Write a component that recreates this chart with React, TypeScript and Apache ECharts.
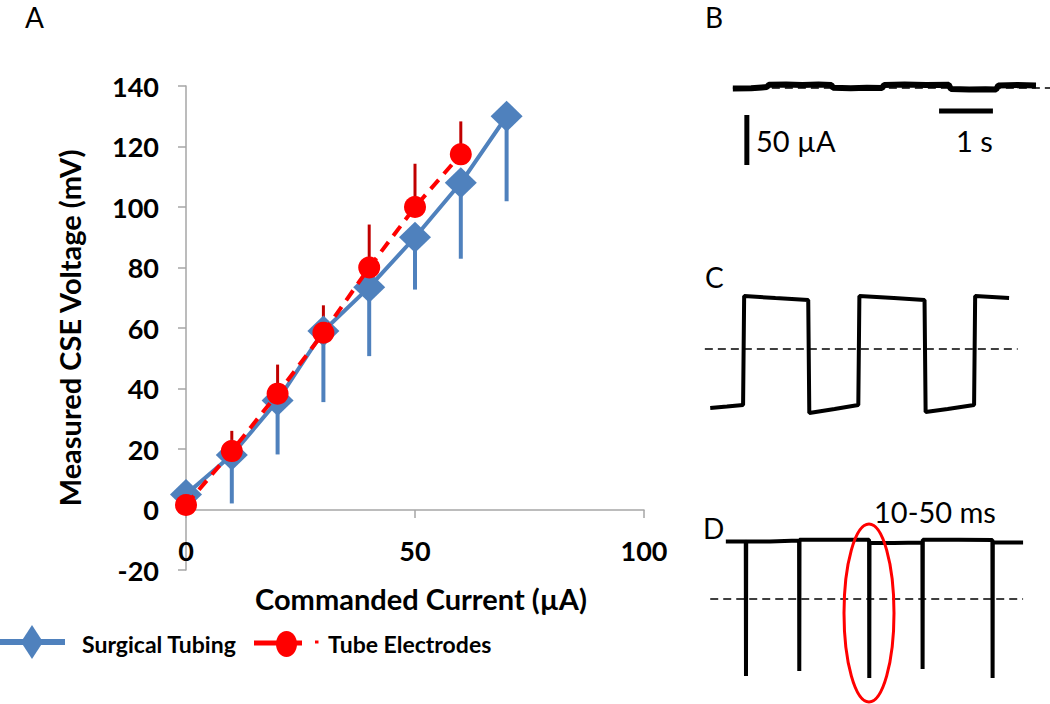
import React, { useEffect, useRef } from "react";
import * as echarts from "echarts";

// ---------- Panel A data ----------
const xTicks = [0, 50, 100];
const yTicks = [-20, 0, 20, 40, 60, 80, 100, 120, 140];
const seriesNames = ["Surgical Tubing", "Tube Electrodes"];
const tubingCurrent = [0, 10, 20, 30, 40, 50, 60, 70];
const tubingVoltage = [5, 18, 36, 59, 73.5, 90, 108, 130];
const tubingErrorDown = [0, 16, 17.8, 23.5, 22.8, 17.3, 25.1, 28.1];
const electrodeCurrent = [0, 10, 20, 30, 40, 50, 60];
const electrodeVoltage = [1.5, 19.3, 38.3, 58.4, 80, 100, 117.4];
const electrodeErrorUp = [0, 6.7, 9.6, 9.1, 14.2, 14.3, 10.9];

// ---------- Panel B (time in s, current in µA) ----------
const traceBTime = [0.61, 0.95, 1.15, 1.24, 1.28, 1.6, 1.9, 2.2, 2.44, 2.47, 2.8, 3.1, 3.38, 3.42, 3.8, 4.2, 4.62, 4.66, 5.0, 5.3, 5.5, 5.54, 5.9, 6.24];
const traceBCurrent = [-0.5, -0.3, 0.6, 1.0, 3.2, 3.6, 3.0, 3.4, 3.0, 0.2, -0.2, 0.3, 0.0, 3.0, 3.5, 2.9, 3.2, -1.0, -1.5, -1.2, -1.4, 2.5, 2.9, 2.6];
const baselineBTime = [0.61, 6.5];
const scaleBarCurrentTime = [0.87, 0.87];
const scaleBarCurrentValue = [-27, -77]; // 50 µA
const scaleBarTimeTime = [4.44, 5.44]; // 1 s
const scaleBarTimeValue = [-23, -23];

// ---------- Panel C ----------
const traceCTime = [0.19, 0.5, 0.8, 0.82, 1.4, 2.01, 2.03, 2.5, 2.94, 2.96, 3.6, 4.17, 4.19, 4.6, 5.09, 5.11, 5.74];
const traceCCurrent = [-59, -57.5, -56, 53, 51, 49, -64, -60, -56, 53, 51, 49, -63, -60, -56, 53, 51];
const baselineCTime = [0.09, 5.9];

// ---------- Panel D ----------
const traceDTime = [0.48, 0.85, 0.854, 0.858, 1.3, 1.84, 1.844, 1.848, 2.5, 3.14, 3.144, 3.148, 3.6, 4.13, 4.134, 4.138, 4.8, 5.43, 5.434, 5.438, 6.0];
const traceDCurrent = [57.6, 57.6, -77, 57.6, 57.6, 58.5, -72, 59.3, 59.3, 59.3, -79, 56, 56, 56.5, -70, 59.3, 59.3, 59, -79, 56.5, 56.5];
const baselineDTime = [0.19, 6.0];

const BLUE = "#4F81BD";
const RED = "#FF0000";
const DARKRED = "#C00000";
const FONT = "Lato, 'Open Sans', sans-serif";

function zip(a: number[], b: number[]) {
  return a.map((v, i) => [v, b[i]]);
}

function errorSeries(xs: number[], ys: number[], errs: number[], dir: number, color: string, width: number) {
  return {
    type: "custom",
    xAxisIndex: 0,
    yAxisIndex: 0,
    z: 1,
    encode: { x: 0, y: 1 },
    data: xs.map((x, i) => [x, ys[i], errs[i]]),
    renderItem: (params: any, api: any) => {
      const x = api.value(0);
      const y = api.value(1);
      const e = api.value(2);
      const p1 = api.coord([x, y]);
      const p2 = api.coord([x, y + dir * e]);
      return {
        type: "line",
        shape: { x1: p1[0], y1: p1[1], x2: p2[0], y2: p2[1] },
        style: { stroke: color, lineWidth: width },
      };
    },
  };
}

function traceSeries(idx: number, t: number[], v: number[], width: number, dashed = false) {
  return {
    type: "line",
    xAxisIndex: idx,
    yAxisIndex: idx,
    data: zip(t, v),
    symbol: "none",
    silent: true,
    lineStyle: dashed
      ? { color: "#000", width: 1.5, type: [8, 5] }
      : { color: "#000", width },
    z: dashed ? 1 : 2,
  };
}

function panelLabel(text: string, x: number, y: number) {
  return {
    type: "text",
    x,
    y,
    style: { text, font: `28px ${FONT}`, fill: "#000", verticalAlign: "top" },
  };
}

export default function App() {
  const ref = useRef<HTMLDivElement>(null);
  useEffect(() => {
    if (!ref.current) return;
    const chart = echarts.init(ref.current, null, { renderer: "svg" });
    const hiddenAxis = (min: number, max: number, gridIndex: number) => ({
      type: "value",
      gridIndex,
      min,
      max,
      show: false,
    });
    const option: any = {
      animation: false,
      backgroundColor: "#fff",
      grid: [
        { left: 186, top: 86, width: 458, height: 484 },
        { left: 700, top: 38, width: 350, height: 150 },
        { left: 700, top: 249, width: 350, height: 200 },
        { left: 700, top: 499, width: 350, height: 200 },
      ],
      xAxis: [
        {
          type: "value",
          gridIndex: 0,
          min: xTicks[0],
          max: xTicks[xTicks.length - 1],
          interval: 50,
          offset: -60,
          name: "Commanded Current (µA)",
          nameLocation: "middle",
          nameGap: 74,
          nameMoveOverlap: false,
          nameTextStyle: { fontFamily: FONT, fontWeight: "bold", fontSize: 29, color: "#000", padding: [0, 0, 0, 12] },
          axisLine: { onZero: false, lineStyle: { color: "#A6A6A6", width: 1.5 } },
          axisTick: { show: true, length: 8, lineStyle: { color: "#A6A6A6", width: 1.5 } },
          axisLabel: { fontFamily: FONT, fontWeight: "bold", fontSize: 27, color: "#000", margin: 27 },
          splitLine: { show: false },
        },
        hiddenAxis(0, 6.5, 1),
        hiddenAxis(0, 6.5, 2),
        hiddenAxis(0, 6.5, 3),
      ],
      yAxis: [
        {
          type: "value",
          gridIndex: 0,
          min: yTicks[0],
          max: yTicks[yTicks.length - 1],
          interval: 20,
          name: "Measured CSE Voltage (mV)",
          nameLocation: "middle",
          nameGap: 102,
          nameMoveOverlap: false,
          nameTextStyle: { fontFamily: FONT, fontWeight: "bold", fontSize: 29, color: "#000" },
          axisLine: { show: true, onZero: false, lineStyle: { color: "#A6A6A6", width: 1.5 } },
          axisTick: { show: true, length: 8, lineStyle: { color: "#A6A6A6", width: 1.5 } },
          axisLabel: { fontFamily: FONT, fontWeight: "bold", fontSize: 27, color: "#000", margin: 27 },
          splitLine: { show: false },
        },
        hiddenAxis(-100, 50, 1),
        hiddenAxis(-100, 100, 2),
        hiddenAxis(-100, 100, 3),
      ],
      series: [
        errorSeries(tubingCurrent, tubingVoltage, tubingErrorDown, -1, BLUE, 4),
        {
          name: seriesNames[0],
          type: "line",
          xAxisIndex: 0,
          yAxisIndex: 0,
          data: zip(tubingCurrent, tubingVoltage),
          symbol: "diamond",
          symbolSize: [32, 31],
          itemStyle: { color: BLUE },
          lineStyle: { color: BLUE, width: 4 },
          z: 2,
        },
        errorSeries(electrodeCurrent, electrodeVoltage, electrodeErrorUp, 1, DARKRED, 3),
        {
          name: seriesNames[1],
          type: "line",
          xAxisIndex: 0,
          yAxisIndex: 0,
          data: zip(electrodeCurrent, electrodeVoltage),
          symbol: "circle",
          symbolSize: 22,
          itemStyle: { color: RED },
          lineStyle: { color: RED, width: 4, type: [12, 8] },
          z: 3,
        },
        // Panel B
        traceSeries(1, baselineBTime, [0, 0], 1.5, true),
        traceSeries(1, traceBTime, traceBCurrent, 6),
        traceSeries(1, scaleBarCurrentTime, scaleBarCurrentValue, 5),
        traceSeries(1, scaleBarTimeTime, scaleBarTimeValue, 5),
        // Panel C
        traceSeries(2, baselineCTime, [0, 0], 1.5, true),
        traceSeries(2, traceCTime, traceCCurrent, 4),
        // Panel D
        traceSeries(3, baselineDTime, [0, 0], 1.5, true),
        traceSeries(3, traceDTime, traceDCurrent, 4),
      ],
      graphic: [
        panelLabel("A", 25, 3),
        panelLabel("B", 705, 3),
        panelLabel("C", 705, 263),
        panelLabel("D", 703, 514),
        { type: "text", x: 756, y: 140, style: { text: "50 µA", font: `29px ${FONT}`, fill: "#000", verticalAlign: "middle" } },
        { type: "text", x: 956, y: 140, style: { text: "1 s", font: `29px ${FONT}`, fill: "#000", verticalAlign: "middle" } },
        { type: "text", x: 874, y: 511, style: { text: "10-50 ms", font: `29px ${FONT}`, fill: "#000", verticalAlign: "middle" } },
        { type: "ellipse", shape: { cx: 869, cy: 613, rx: 25, ry: 89 }, style: { fill: "none", stroke: RED, lineWidth: 3 }, z: 10 },
        // legend
        { type: "line", shape: { x1: 0, y1: 642, x2: 65, y2: 642 }, style: { stroke: BLUE, lineWidth: 6 } },
        { type: "polygon", shape: { points: [[32, 625], [43, 642], [32, 659], [21, 642]] }, style: { fill: BLUE } },
        { type: "text", x: 82, y: 644, style: { text: seriesNames[0], font: `bold 23px ${FONT}`, fill: "#000", verticalAlign: "middle" } },
        { type: "line", shape: { x1: 254, y1: 643, x2: 302, y2: 643 }, style: { stroke: RED, lineWidth: 5 } },
        { type: "ellipse", shape: { cx: 286.5, cy: 644, rx: 10.5, ry: 13 }, style: { fill: RED } },
        { type: "line", shape: { x1: 315, y1: 642, x2: 318.5, y2: 642 }, style: { stroke: RED, lineWidth: 3 } },
        { type: "text", x: 328, y: 644, style: { text: seriesNames[1], font: `bold 23px ${FONT}`, fill: "#000", verticalAlign: "middle" } },
      ],
    };
    chart.setOption(option);
    return () => chart.dispose();
  }, []);
  return (
    <div
      ref={ref}
      style={{ position: "fixed", left: 0, top: 0, width: 1050, height: 704, background: "#fff" }}
    />
  );
}
